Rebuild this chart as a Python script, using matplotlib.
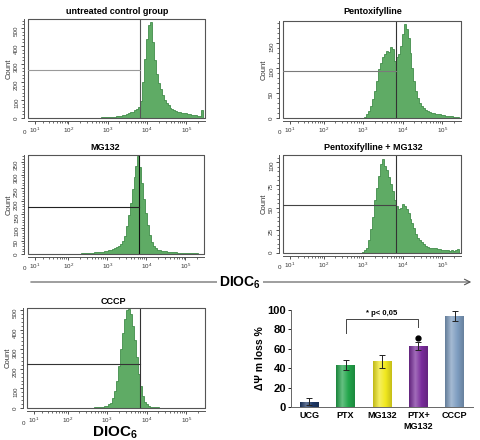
import numpy as np
import matplotlib.pyplot as plt
import matplotlib.transforms as mtransforms
from matplotlib.patches import Rectangle
from matplotlib.ticker import AutoMinorLocator, FixedLocator
from matplotlib.colors import LinearSegmentedColormap, to_rgb

plt.rcParams['font.family'] = ['Liberation Sans', 'DejaVu Sans']
plt.rcParams['mathtext.fontset'] = 'custom'
plt.rcParams['mathtext.rm'] = 'Liberation Sans'
plt.rcParams['mathtext.it'] = 'Liberation Sans:italic'
plt.rcParams['mathtext.bf'] = 'Liberation Sans:bold'

# ── histogram data: counts per log10(DIOC6) bin ──
LOG_BINS = np.round(np.arange(2.30, 5.425, 0.05), 2)   # 63 bin centres

UCG_COUNTS = [0, 0, 0, 1, 1, 1, 1, 1, 2, 2,
              2, 3, 3, 4, 5, 6, 6, 7, 8, 9,
              11, 13, 15, 19, 24, 27, 31, 36, 42, 50,
              62, 95, 200, 330, 440, 515, 535, 420, 320, 245,
              195, 160, 125, 100, 82, 70, 58, 50, 44, 40,
              35, 32, 29, 27, 25, 22, 20, 18, 16, 14,
              12, 12, 45]
PTX_COUNTS = [0] * 14 + [1, 3, 8, 15, 24, 38, 55, 75, 98, 110,
                         122, 128, 135, 132, 142, 138, 115, 122, 128, 145,
                         168, 188, 178, 160, 130, 100, 75, 55, 40, 30,
                         25, 20, 17, 14, 12, 11, 10, 9, 8, 8,
                         7, 6, 5, 5, 4, 4, 3, 2, 2]
MG_COUNTS = [1, 2, 2, 3, 3, 4, 4, 5, 6, 7,
             8, 8, 9, 11, 12, 14, 16, 18, 21, 25,
             29, 36, 48, 70, 105, 148, 195, 245, 290, 335,
             372, 330, 270, 210, 155, 110, 72, 45, 30, 22,
             17, 14, 12, 11, 10, 9, 8, 7, 6, 6,
             5, 5, 4, 4, 3, 3, 3, 2, 2, 2,
             2, 1, 1]
COMBO_COUNTS = [0] * 13 + [0.5,
                           1, 3, 6, 14, 26, 40, 58, 72, 85, 98,
                           104, 96, 92, 84, 76, 68, 58, 52, 48, 50,
                           54, 52, 48, 44, 38, 33, 27, 21, 17, 14,
                           12, 10, 8, 7, 6, 6, 5, 5, 4, 4,
                           3, 3, 3, 3, 2, 3, 2, 3, 4]
CCCP_COUNTS = [0] * 4 + [1, 1, 2, 2, 3, 3, 4, 5, 6, 8,
                         11, 18, 28, 50, 85, 140, 215, 300, 385, 455,
                         500, 505, 480, 420, 345, 260, 175, 110, 60, 32,
                         18, 11, 7, 5, 4, 3, 3, 2, 2, 2,
                         1.5, 1, 1, 1, 1, 1, 1, 1, 1, 1,
                         1, 1, 1, 1, 0.5, 0.5, 0.5, 0.5, 0.5]

HIST_TITLES = ['untreated control group', 'Pentoxifylline', 'MG132',
               'Pentoxifylline + MG132', 'CCCP']
HIST_PCT = ['5.2%', '48.2%', '54.2%', '61.4%', '96.9%']
HIST_YMAX = [550, 195, 375, 108, 510]
HIST_YSTEP = [100, 50, 50, 25, 100]
GATE_X = 6700
GATE_Y = [267, 94, 179, 53, 224]

# ── bar chart data ──
BAR_LABELS = ['UCG', 'PTX', 'MG132', 'PTX+\nMG132', 'CCCP']
BAR_VALUES = [5.5, 43, 47, 63, 94]
BAR_ERRORS = [3.5, 5, 6.5, 4, 5]
BAR_COLORS = ['#1d3866', '#22a64b', '#f1e81e', '#7a2c9c', '#7e9dc0']

W, H = 480, 440
FILL = '#5fab65'
EDGE = '#2c7f36'
XMIN, XMAX = 3.5, 300000

fig = plt.figure(figsize=(W / 100, H / 100), dpi=100)


def box(l, t, r, b):
    return [l / W, 1 - b / H, (r - l) / W, (b - t) / H]


# overlay for free texts and the DIOC6 arrow, in pixel coordinates
ov = fig.add_axes([0, 0, 1, 1])
ov.set_xlim(0, W)
ov.set_ylim(H, 0)
ov.axis('off')

rects = [(28, 19, 205, 118), (283, 21, 461, 118), (28, 155, 204, 254),
         (283, 155, 461, 253), (27, 308, 205, 408)]
title_pos = [(117, 11), (373, 11), (105, 147), (373, 147), (113, 301)]
pct_pos = [(84, 49), (347, 52), (86, 181), (342, 181), (92, 340)]
hline_col = ['#9a9a9a', '#7a7a7a', '#222222', '#444444', '#333333']
vline_col = ['#555555', '#333333', '#111111', '#333333', '#333333']
all_counts = [UCG_COUNTS, PTX_COUNTS, MG_COUNTS, COMBO_COUNTS, CCCP_COUNTS]

edges = 10 ** np.append(LOG_BINS - 0.025, LOG_BINS[-1] + 0.025)
minor_x = [k * 10 ** d for d in range(1, 6) for k in range(2, 10) if k * 10 ** d < XMAX]

for i in range(5):
    ax = fig.add_axes(box(*rects[i]))
    ax.stairs(all_counts[i], edges, baseline=0, fill=True,
              facecolor=FILL, edgecolor=EDGE, linewidth=0.5)
    # biexponential-like display axis of the cytometer
    ax.set_xscale('asinh', linear_width=15)
    ax.set_xlim(XMIN, XMAX)
    ax.set_ylim(0, HIST_YMAX[i])

    ax.axvline(GATE_X, color=vline_col[i], lw=0.8)
    ax.plot([XMIN, GATE_X], [GATE_Y[i], GATE_Y[i]], color=hline_col[i], lw=0.8)

    ax.set_xticks([10, 100, 1000, 1e4, 1e5],
                  [r'$10^{1}$', r'$10^{2}$', r'$10^{3}$', r'$10^{4}$', r'$10^{5}$'])
    ax.xaxis.set_minor_locator(FixedLocator(minor_x))
    ax.set_yticks(np.arange(0, HIST_YMAX[i], HIST_YSTEP[i]))
    ax.yaxis.set_minor_locator(AutoMinorLocator(5))
    ax.tick_params(axis='both', which='major', labelsize=4.5, length=2.5,
                   width=0.6, pad=1, colors='#333333')
    ax.tick_params(axis='both', which='minor', length=1.3, width=0.5, colors='#333333')
    ax.tick_params(axis='y', labelrotation=90)
    for lab in ax.get_yticklabels():
        lab.set_va('center')

    for s in ax.spines.values():
        s.set_color('#555555')
        s.set_linewidth(0.7)
    ax.spines['left'].set_position(('outward', 3))
    ax.spines['bottom'].set_position(('outward', 2))
    ax.add_patch(Rectangle((0, 0), 1, 1, transform=ax.transAxes, fill=False,
                           edgecolor='#555555', lw=0.8, clip_on=False))

    trans = mtransforms.blended_transform_factory(ax.transData, ax.transAxes)
    ax.text(0, -0.15, '0', transform=trans, fontsize=4.5, ha='center',
            va='center', color='#333333', clip_on=False)
    ax.set_ylabel('Count', fontsize=5.5, labelpad=1, color='#333333')

    ov.text(*title_pos[i], HIST_TITLES[i], fontsize=6.5, fontweight='bold',
            ha='center', va='center')
    ov.text(*pct_pos[i], HIST_PCT[i], fontsize=7, fontweight='bold',
            ha='center', va='center')

# DIOC6 arrow across the figure
ov.annotate('', xy=(474, 282), xytext=(28, 282),
            arrowprops=dict(arrowstyle='->', color='#555555', lw=0.8))
ov.text(240, 283, r'DIOC$_{\mathbf{6}}$', fontsize=10, fontweight='bold',
        ha='center', va='center',
        bbox=dict(facecolor='white', edgecolor='none', pad=1.5))
ov.text(115, 437, r'DIOC$_{\mathbf{6}}$', fontsize=11, fontweight='bold',
        ha='center', va='baseline')

# ── bar chart ──
bx = fig.add_axes(box(291, 310, 473, 407))
x = np.arange(len(BAR_LABELS))
bars = bx.bar(x, BAR_VALUES, width=0.52, color=BAR_COLORS, zorder=1)
# soft cylinder shading on each bar
grad = np.linspace(0, 1, 64).reshape(1, -1)
for b, c in zip(bars, BAR_COLORS):
    rgb = np.array(to_rgb(c))
    cmap = LinearSegmentedColormap.from_list(
        'shade', [rgb * 0.8, rgb + (1 - rgb) * 0.3, rgb, rgb * 0.82])
    im = bx.imshow(grad, cmap=cmap, aspect='auto', zorder=1.5,
                   extent=[b.get_x(), b.get_x() + b.get_width(), 0, b.get_height()])
    im.set_clip_path(b)
bx.errorbar(x, BAR_VALUES, yerr=BAR_ERRORS, fmt='none', ecolor='#222222',
            elinewidth=0.7, capsize=2, capthick=0.7, zorder=3)
bx.set_xlim(-0.5, 4.5)
bx.set_ylim(0, 100)
bx.set_yticks([0, 20, 40, 60, 80, 100])
bx.set_xticks(x, BAR_LABELS)
for lab in bx.get_xticklabels():
    lab.set_fontweight('bold')
    lab.set_fontsize(6.5)
for lab in bx.get_yticklabels():
    lab.set_fontweight('bold')
    lab.set_fontsize(8)
bx.tick_params(axis='x', length=0, pad=3)
bx.tick_params(axis='y', length=2, width=0.6, pad=1.5)
bx.spines['top'].set_visible(False)
bx.spines['right'].set_visible(False)
bx.spines['left'].set_color('#666666')
bx.spines['bottom'].set_color('#666666')
bx.spines['left'].set_linewidth(0.7)
bx.spines['bottom'].set_linewidth(0.7)
bx.set_ylabel('ΔΨ m loss %', fontsize=7.5, fontweight='bold', labelpad=2)

bx.plot([1, 1, 3, 3], [76, 91, 91, 82], color='#444444', lw=0.7, clip_on=False)
bx.text(2, 96, '* p< 0,05', fontsize=5.5, fontweight='bold', ha='center', va='center')
bx.plot(3, 71, 'o', color='black', ms=3.5, clip_on=False)

fig.savefig('out.png', dpi=100)
